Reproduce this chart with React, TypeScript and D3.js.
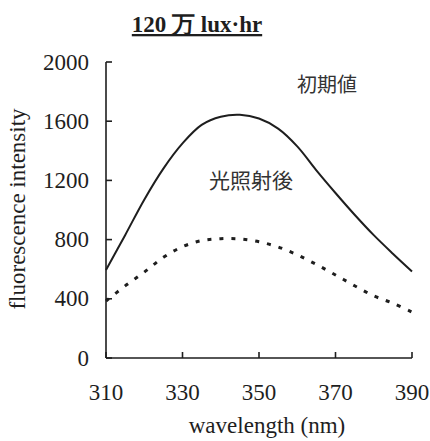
import React, { useEffect, useRef } from 'react';
import * as d3 from 'd3';

// wavelength (nm)
const wavelengths = [310, 315, 320, 325, 330, 335, 340, 345, 350, 355, 360, 365, 370, 375, 380, 385, 390];
// 初期値 (solid)
const initialValues = [595, 830, 1070, 1280, 1450, 1575, 1630, 1643, 1618, 1550, 1430, 1268, 1115, 968, 830, 705, 585];
// 光照射後 (dotted)
const afterValues = [385, 487, 580, 680, 752, 793, 806, 804, 785, 750, 697, 632, 561, 488, 420, 370, 310];

const xTicks = [310, 330, 350, 370, 390];
const yTicks = [0, 400, 800, 1200, 1600, 2000];

const App = () => {
  const ref = useRef<SVGSVGElement | null>(null);

  useEffect(() => {
    if (!ref.current) return;
    const width = 430;
    const height = 441;
    const svg = d3.select(ref.current);
    svg.selectAll('*').remove();
    svg.attr('width', width).attr('height', height);

    const x = d3.scaleLinear().domain([310, 390]).range([106, 412]);
    const y = d3.scaleLinear().domain([0, 2000]).range([358, 62]);

    const serif = '"Liberation Serif", "Times New Roman", serif';
    const cjk = '"Noto Sans CJK JP", "Noto Sans CJK SC", sans-serif';
    const ink = '#1e1e1e';

    // title
    svg.append('text')
      .attr('x', 197).attr('y', 32)
      .attr('text-anchor', 'middle')
      .attr('font-family', serif)
      .attr('font-weight', 'bold')
      .attr('font-size', 23)
      .attr('fill', ink)
      .attr('text-decoration', 'underline')
      .text('120 万 lux·hr');

    // axes
    const g = svg.append('g').attr('stroke', ink).attr('stroke-width', 1.6).attr('fill', 'none');
    g.append('line').attr('x1', x(310)).attr('x2', x(310)).attr('y1', y(2000)).attr('y2', y(0));
    g.append('line').attr('x1', x(310)).attr('x2', x(390)).attr('y1', y(0)).attr('y2', y(0));
    g.selectAll('.yt').data(yTicks).enter().append('line')
      .attr('x1', x(310)).attr('x2', x(310) + 6)
      .attr('y1', d => y(d)).attr('y2', d => y(d));
    g.selectAll('.xt').data(xTicks).enter().append('line')
      .attr('x1', d => x(d)).attr('x2', d => x(d))
      .attr('y1', y(0)).attr('y2', y(0) - 6);

    svg.selectAll('.ylab').data(yTicks).enter().append('text')
      .attr('x', 89).attr('y', d => y(d) + 7.5)
      .attr('text-anchor', 'end')
      .attr('font-family', serif).attr('font-size', 23).attr('fill', ink)
      .text(d => d);

    svg.selectAll('.xlab').data(xTicks).enter().append('text')
      .attr('x', d => x(d)).attr('y', 400)
      .attr('text-anchor', 'middle')
      .attr('font-family', serif).attr('font-size', 23).attr('fill', ink)
      .text(d => d);

    svg.append('text')
      .attr('x', 267).attr('y', 433)
      .attr('text-anchor', 'middle')
      .attr('font-family', serif).attr('font-size', 23).attr('fill', ink)
      .text('wavelength (nm)');

    svg.append('text')
      .attr('transform', 'translate(25,209) rotate(-90)')
      .attr('text-anchor', 'middle')
      .attr('font-family', serif).attr('font-size', 23).attr('fill', ink)
      .text('fluorescence intensity');

    // curves
    const line = d3.line<number>()
      .x((_, i) => x(wavelengths[i]))
      .y(d => y(d))
      .curve(d3.curveCatmullRom.alpha(0.5));

    svg.append('path')
      .attr('d', line(initialValues))
      .attr('fill', 'none').attr('stroke', ink).attr('stroke-width', 2);

    svg.append('path')
      .attr('d', line(afterValues))
      .attr('fill', 'none').attr('stroke', ink).attr('stroke-width', 3)
      .attr('stroke-dasharray', '4 8');

    // series labels
    svg.append('text')
      .attr('x', 327).attr('y', 92)
      .attr('text-anchor', 'middle')
      .attr('font-family', cjk).attr('font-size', 20).attr('fill', '#333')
      .text('初期値');
    svg.append('text')
      .attr('x', 251).attr('y', 188)
      .attr('text-anchor', 'middle')
      .attr('font-family', cjk).attr('font-size', 21).attr('fill', '#333')
      .text('光照射後');
  }, []);

  return (
    <div style={{ position: 'absolute', left: 0, top: 0, background: 'white' }}>
      <svg ref={ref} style={{ display: 'block' }}></svg>
    </div>
  );
};

export default App;
